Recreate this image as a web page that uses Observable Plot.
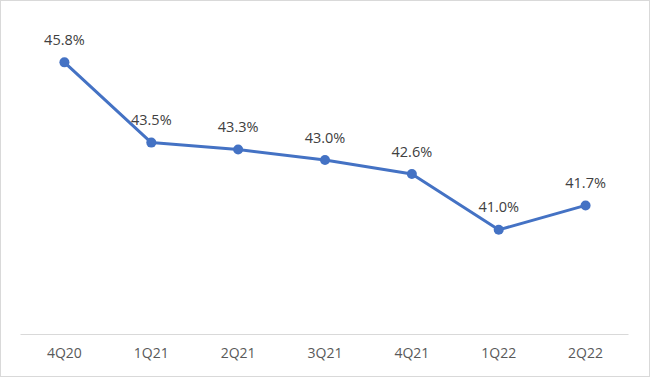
<!DOCTYPE html>
<html>
<head>
<meta charset="utf-8">
<script src="https://cdn.jsdelivr.net/npm/d3@7"></script>
<script src="https://cdn.jsdelivr.net/npm/@observablehq/plot@0.6"></script>
<style>
  html, body { margin: 0; padding: 0; background: #fff; }
  #chart svg { display: block; outline: 1px solid #d9d9d9; outline-offset: -1px; }
</style>
</head>
<body>
<div id="chart"></div>
<script>
const quarters = ["4Q20", "1Q21", "2Q21", "3Q21", "4Q21", "1Q22", "2Q22"];
const values = [45.8, 43.5, 43.3, 43.0, 42.6, 41.0, 41.7];

const data = quarters.map((q, i) => ({ q, v: values[i] }));

const chart = Plot.plot({
  width: 650,
  height: 377,
  marginLeft: 20.5,
  marginRight: 21.5,
  marginTop: 20,
  marginBottom: 43,
  style: { fontFamily: "'Open Sans', sans-serif", fontSize: "14px", background: "#fff" },
  x: { type: "point", domain: quarters, padding: 0.5, round: false, label: null },
  y: { domain: [38, 47], axis: null },
  marks: [
    Plot.ruleY([38], { stroke: "#d9d9d9", strokeWidth: 1 }),
    Plot.axisX({ tickSize: 0, tickPadding: 14, color: "#595959", label: null, fontSize: 14 }),
    Plot.line(data, { x: "q", y: "v", stroke: "#4472C4", strokeWidth: 3 }),
    Plot.dot(data, { x: "q", y: "v", r: 5, fill: "#4472C4", stroke: "none" }),
    Plot.text(data, { x: "q", y: "v", text: d => d.v.toFixed(1) + "%", dy: -22, fill: "#404040", fontSize: 14.5 })
  ]
});
document.getElementById("chart").appendChild(chart);
</script>
</body>
</html>
